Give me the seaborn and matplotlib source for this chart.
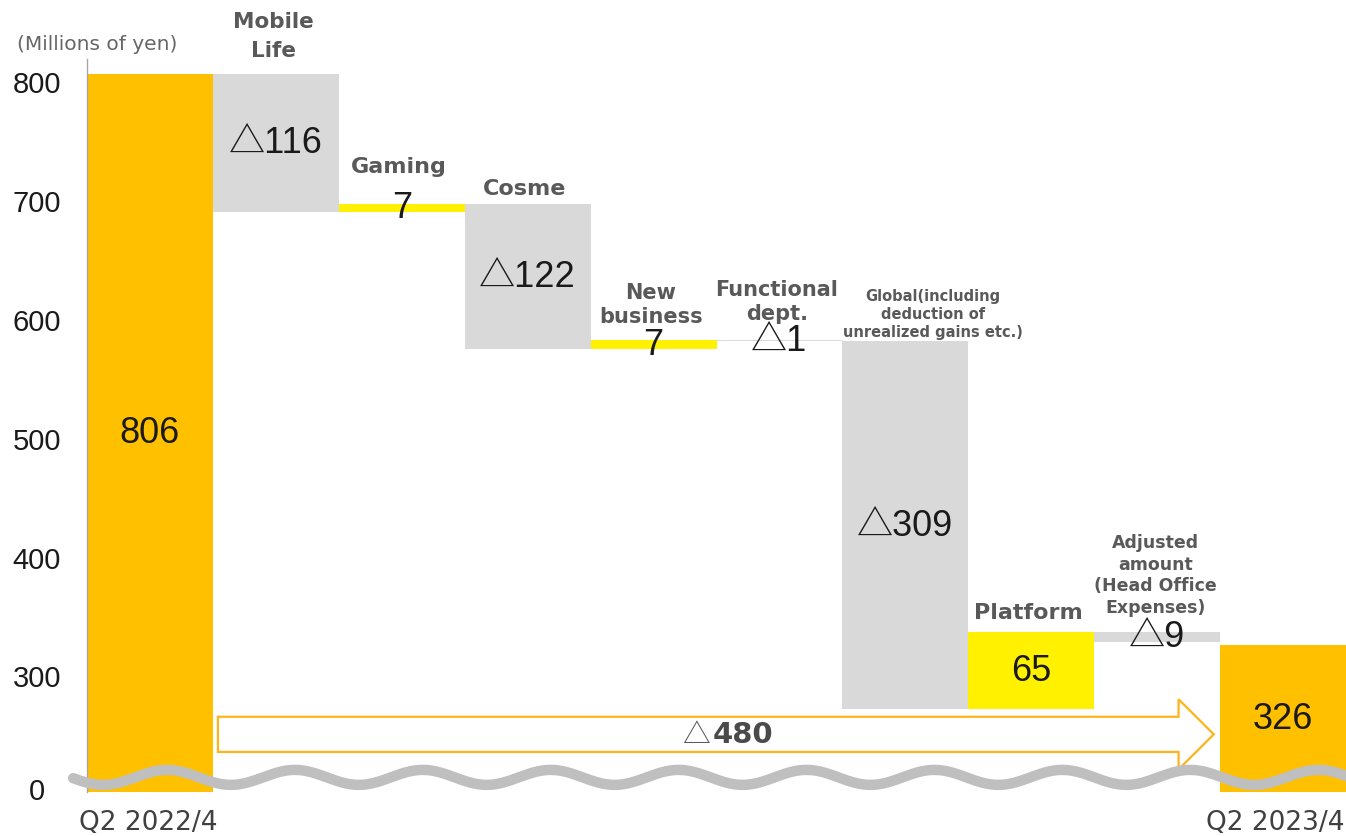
import numpy as np
import pandas as pd
import matplotlib
matplotlib.use("Agg")
import matplotlib.pyplot as plt
from matplotlib.patches import Polygon
import seaborn as sns

# Operating profit bridge by segment (millions of yen)
categories = ["Q2 2022/4", "Mobile Life", "Gaming", "Cosme", "New business",
              "Functional dept.", "Global", "Platform", "Adjusted amount", "Q2 2023/4"]
values = [806, -116, 7, -122, 7, -1, -309, 65, -9, 326]
kinds = ["total", "delta", "delta", "delta", "delta",
         "delta", "delta", "delta", "delta", "total"]
segment_labels = ["", "Mobile\nLife", "Gaming", "Cosme", "New\nbusiness",
                  "Functional\ndept.",
                  "Global(including\ndeduction of\nunrealized gains etc.)",
                  "Platform", "Adjusted\namount\n(Head Office\nExpenses)", ""]
y_tick_values = [300, 400, 500, 600, 700, 800]
end_labels = ["Q2 2022/4", "Q2 2023/4"]
unit_label = "(Millions of yen)"

ORANGE = "#FFC000"
YELLOW = "#FFF100"
GREY = "#D9D9D9"
ARROW = "#FDB31A"
WAVE = "#BFBFBF"
LABEL_GREY = "#595959"

# floating bar geometry
bottoms, heights, colors = [], [], []
running = 0
for v, k in zip(values, kinds):
    if k == "total":
        bottoms.append(0)
        heights.append(v)
        colors.append(ORANGE)
        running = v
    else:
        new = running + v
        bottoms.append(min(running, new))
        heights.append(abs(v))
        colors.append(YELLOW if v > 0 else GREY)
        running = new

df = pd.DataFrame({"category": categories, "height": heights, "bottom": bottoms})

sns.set_theme(style="white")
plt.rcParams["font.family"] = ["DejaVu Sans"]

W, H = 1346, 837
fig = plt.figure(figsize=(W / 100, H / 100), dpi=100)
ax = fig.add_axes([87 / W, 44 / H, 1259 / W, 733 / H])

sns.barplot(data=df, x="category", y="height", order=categories,
            bottom=df["bottom"].to_numpy(), width=1.0, errorbar=None,
            saturation=1, color=GREY, linewidth=0, ax=ax, zorder=1)
for patch, c in zip(ax.patches, colors):
    patch.set_facecolor(c)
    patch.set_edgecolor("none")

# broken value axis: the floor stands in for zero
Y_LO, Y_HI = 202, 818.6
ZERO_POS = 205
ax.set_ylim(Y_LO, Y_HI)
ax.set_xlim(-0.5, len(categories) - 0.5)
ax.set_xlabel("")
ax.set_ylabel("")
ax.set_xticks([])
ax.set_yticks([ZERO_POS] + y_tick_values,
              ["0"] + [str(t) for t in y_tick_values])
ax.tick_params(axis="y", length=0, pad=36, labelsize=21, labelcolor="#1a1a1a")
for lab in ax.get_yticklabels():
    lab.set_horizontalalignment("center")
    lab.set_family(["Liberation Sans", "DejaVu Sans"])
for s in ["top", "right", "bottom"]:
    ax.spines[s].set_visible(False)
ax.spines["left"].set_color("#A6A6A6")
ax.spines["left"].set_linewidth(1.0)

num_font = ["Liberation Sans", "Noto Sans CJK JP"]


def fmt(v):
    return f"\u25b3{abs(v)}" if v < 0 else f"{v}"


# values inside / on the bars
for i, (v, b, h) in enumerate(zip(values, bottoms, heights)):
    lo = max(b, Y_LO)
    yc = (lo + b + h) / 2
    ax.text(i, yc, fmt(v), ha="center", va="center", fontsize=26,
            family=num_font, color="#1a1a1a", zorder=5)

# segment names above the bars: (dx, dy) in points, font size, line spacing
label_style = {
    1: (-2, 13, 15.5, 1.58),
    2: (-2, 23, 16, 1.0),
    3: (-2, 7, 16, 1.0),
    4: (-2, 13, 15, 1.25),
    5: (-2, 15, 15, 1.25),
    6: (20, 3.6, 10.5, 1.25),
    7: (-2, 10, 16, 1.0),
    8: (-1, 14, 12.5, 1.27),
}
for i, text in enumerate(segment_labels):
    if not text:
        continue
    dx, dy, fs, ls = label_style[i]
    top = bottoms[i] + heights[i]
    ax.annotate(text, xy=(i, top), xytext=(dx, dy), textcoords="offset points",
                ha="center", va="baseline", fontsize=fs, fontweight="bold",
                color=LABEL_GREY, linespacing=ls, multialignment="center",
                zorder=5)

# overall change arrow between the two totals
first, last = 0, len(categories) - 1
x0 = first + 0.5 + 0.04
xt = last - 0.5 - 0.05
xb = xt - 0.28
yc, hs, hh = 250.5, 14.8, 29.5
arrow_pts = [(x0, yc + hs), (xb, yc + hs), (xb, yc + hh), (xt, yc),
             (xb, yc - hh), (xb, yc - hs), (x0, yc - hs)]
ax.add_patch(Polygon(arrow_pts, closed=True, facecolor="white",
                     edgecolor=ARROW, linewidth=1.6, zorder=2,
                     joinstyle="miter"))
total_change = values[last] - values[first]
xm = (x0 + xt) / 2
ax.annotate("\u25b3", xy=(xm, yc), xytext=(-4.3, 0), textcoords="offset points",
            ha="right", va="center", fontsize=20, family=["Noto Sans CJK JP"],
            color=LABEL_GREY, zorder=5)
ax.annotate(f"{abs(total_change)}", xy=(xm, yc), xytext=(-2, 0),
            textcoords="offset points", ha="left", va="center", fontsize=21,
            fontweight="bold", color="#4a4a4a", zorder=5)

# wavy break marker across the floor of the chart
wx = np.linspace(-0.61, len(categories) - 0.4, 1200)
wy = 214.3 + 6.3 * np.cos(2 * np.pi * (wx - 0.135) / 1.016)
ax.plot(wx, wy, color=WAVE, linewidth=7.5, solid_capstyle="round",
        clip_on=False, zorder=3)

# period labels under the total bars
ax.annotate(end_labels[0], xy=(first, Y_LO), xytext=(-1, -12.5),
            textcoords="offset points", ha="center", va="top", fontsize=19,
            color="#404040", annotation_clip=False)
ax.annotate(end_labels[1], xy=(last + 0.5, Y_LO), xytext=(-1, -12.5),
            textcoords="offset points", ha="right", va="top", fontsize=19,
            color="#404040", annotation_clip=False)

fig.text(97 / W, 1 - 45 / H, unit_label, ha="center", va="center",
         fontsize=14.5, color="#666666")

fig.savefig("out.png", dpi=100, facecolor="white")
